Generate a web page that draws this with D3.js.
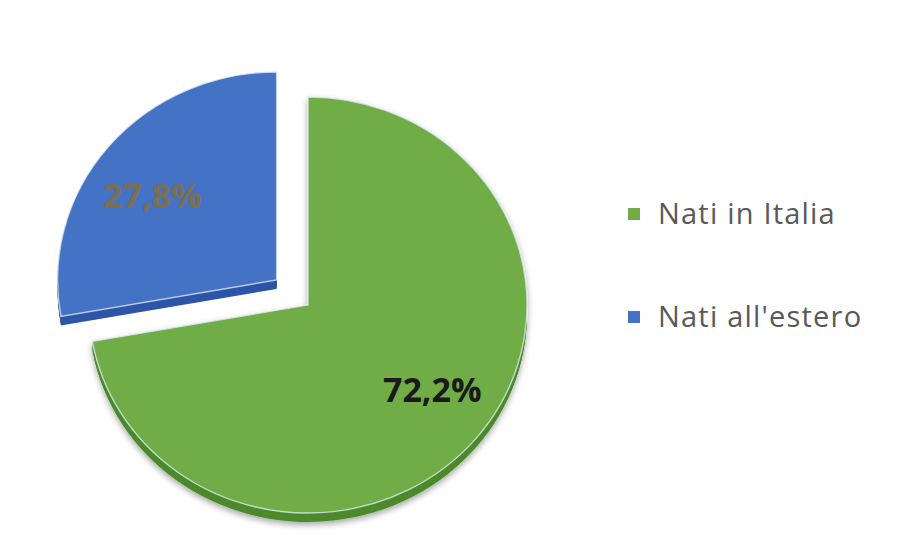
<!DOCTYPE html>
<html>
<head>
<meta charset="utf-8">
<script src="https://cdn.jsdelivr.net/npm/d3@7"></script>
<style>
  body { margin: 0; background: #ffffff; }
  svg { display: block; }
</style>
</head>
<body>
<div id="chart"></div>
<script>
// data
var categories = ["Nati in Italia", "Nati all'estero"];
var values = [72.2, 27.8];
var labels = ["72,2%", "27,8%"];

var width = 907,
  height = 542;

var cx = 308,
  cy = 305,
  radius = 219,
  tilt = 208 / 219, // top face squashed a little
  depth = 9,
  explode = 41,
  labelRadius = 153,
  labelShift = -0.075; // labels sit a bit anticlockwise of the mid angle

var topColor = { "Nati in Italia": "#70ad47", "Nati all'estero": "#4472c4" };
var sideColor = { "Nati in Italia": "#4c8a2c", "Nati all'estero": "#2d55a8" };
var labelColor = { "Nati in Italia": "#1a1a1a", "Nati all'estero": "#7c6f50" };

var svg = d3
  .select("#chart")
  .append("svg")
  .attr("width", width)
  .attr("height", height);

var defs = svg.append("defs");
var shadow = defs.append("filter").attr("id", "shadow").attr("x", "-20%").attr("y", "-20%").attr("width", "140%").attr("height", "140%");
shadow.append("feGaussianBlur").attr("in", "SourceAlpha").attr("stdDeviation", 3);
shadow.append("feOffset").attr("dx", 0).attr("dy", 3).attr("result", "blur");
shadow.append("feComponentTransfer").append("feFuncA").attr("type", "linear").attr("slope", 0.35);
var merge = shadow.append("feMerge");
merge.append("feMergeNode");
merge.append("feMergeNode").attr("in", "SourceGraphic");

var data = categories.map(function(c, i) {
  return { name: c, value: values[i], label: labels[i] };
});

//green starts at 12 o'clock going clockwise, blue fills the rest
var pie = d3
  .pie()
  .sort(null)
  .value(function(d) {
    return d.value;
  });

var arc = d3.arc().innerRadius(0).outerRadius(radius);
var labelArc = d3.arc().innerRadius(labelRadius).outerRadius(labelRadius);

var slices = pie(data);

// draw exploded slice first so green sits over it
slices
  .slice()
  .reverse()
  .forEach(function(d) {
    var mid = (d.startAngle + d.endAngle) / 2;
    var off = d.data.name == "Nati all'estero" ? explode : 0;
    var ox = cx + Math.sin(mid) * off,
      oy = cy - Math.cos(mid) * off * tilt;

    var g = svg
      .append("g")
      .attr("filter", d.data.name == "Nati in Italia" ? "url(#shadow)" : null);

    //side wall: stack of darker copies
    for (var k = depth; k >= 1; k--) {
      g.append("path")
        .attr("transform", "translate(" + ox + "," + (oy + k) + ") scale(1," + tilt + ")")
        .attr("fill", sideColor[d.data.name])
        .attr("d", arc(d));
    }

    //top face
    g.append("path")
      .attr("transform", "translate(" + ox + "," + oy + ") scale(1," + tilt + ")")
      .attr("fill", topColor[d.data.name])
      .attr("stroke", "#dce8f5")
      .attr("stroke-opacity", 0.8)
      .attr("stroke-width", 1.4)
      .attr("vector-effect", "non-scaling-stroke")
      .attr("d", arc(d));

    var c = labelArc.centroid({
      startAngle: d.startAngle + labelShift,
      endAngle: d.endAngle + labelShift
    });
    svg
      .append("text")
      .attr("x", ox + c[0])
      .attr("y", oy + c[1] * tilt)
      .attr("dy", "0.36em")
      .attr("text-anchor", "middle")
      .attr("font-family", "Open Sans, sans-serif")
      .attr("font-weight", "bold")
      .attr("font-size", "34px")
      .attr("fill", labelColor[d.data.name])
      .text(d.data.label);
  });

//legend
var legend = svg
  .selectAll(".legend")
  .data(categories)
  .enter()
  .append("g")
  .attr("class", "legend")
  .attr("transform", function(d, i) {
    return "translate(628," + (214 + i * 103) + ")";
  });

legend
  .append("rect")
  .attr("x", 0)
  .attr("y", -6)
  .attr("width", 12)
  .attr("height", 12)
  .attr("fill", function(d) {
    return topColor[d];
  });

legend
  .append("text")
  .attr("x", 30)
  .attr("dy", "0.36em")
  .attr("font-family", "Open Sans, sans-serif")
  .attr("font-size", "29px")
  .attr("letter-spacing", "1.2px")
  .attr("fill", "#595959")
  .text(function(d) {
    return d;
  });
</script>
</body>
</html>
